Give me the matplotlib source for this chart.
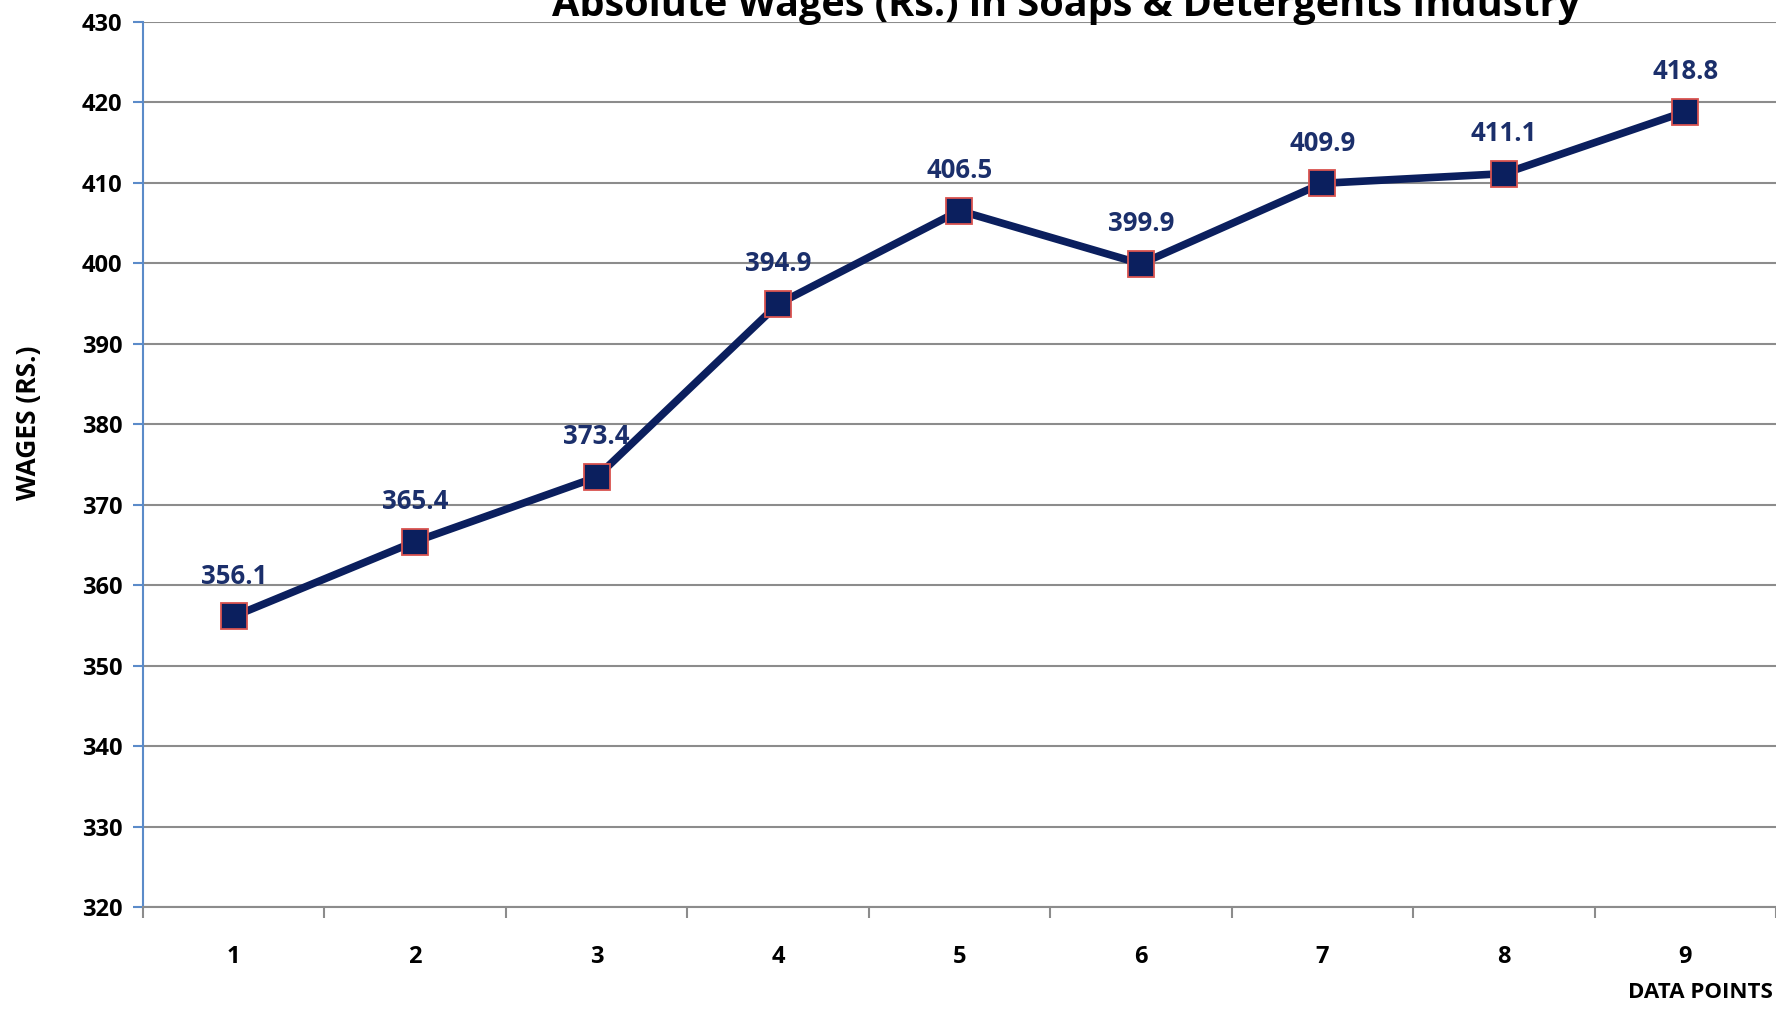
import matplotlib.pyplot as plt

# Data
points = [1, 2, 3, 4, 5, 6, 7, 8, 9]
wages = [356.1, 365.4, 373.4, 394.9, 406.5, 399.9, 409.9, 411.1, 418.8]
y_ticks = [320, 330, 340, 350, 360, 370, 380, 390, 400, 410, 420, 430]

plt.rcParams['font.family'] = ['Open Sans', 'DejaVu Sans']
plt.rcParams['font.weight'] = 'bold'

fig = plt.figure(figsize=(17.76, 10.15), dpi=100)
ax = fig.add_axes([0.0805, 0.1064, 0.9195, 0.8724])

# Line with square markers
ax.plot(points, wages, color='#0B1F5E', linewidth=5.5, marker='s',
        markersize=19, markerfacecolor='#0B1F5E', markeredgecolor='#D9534F',
        markeredgewidth=1.3, zorder=3)

# Value labels above each point
for x, y in zip(points, wages):
    ax.annotate(f"{y:.1f}", (x, y), xytext=(0, 29), textcoords='offset points',
                ha='center', va='center', fontsize=18.5, fontweight='bold',
                color='#1B2F6B', zorder=4)

ax.set_xlim(0.5, 9.5)
ax.set_ylim(320, 430)
ax.set_yticks(y_ticks)
ax.set_xticks(points)
ax.set_xticklabels([str(p) for p in points])
ax.set_xticks([p + 0.5 for p in range(0, 10)], minor=True)

ax.grid(axis='y', color='#8C8C8C', linewidth=1.5)
ax.set_axisbelow(True)

for side in ['top', 'right']:
    ax.spines[side].set_visible(False)
ax.spines['left'].set_color('#5B8BC9')
ax.spines['left'].set_linewidth(1.5)
ax.spines['bottom'].set_color('#8C8C8C')
ax.spines['bottom'].set_linewidth(1.5)

ax.tick_params(axis='y', which='major', length=7, width=1.5, color='#5B8BC9',
               labelsize=17, pad=8)
ax.tick_params(axis='x', which='major', length=0, labelsize=17, pad=27)
ax.tick_params(axis='x', which='minor', length=8, width=1.5, color='#8C8C8C')

ax.set_ylabel("WAGES (RS.)", fontsize=19, fontweight='bold')
ax.yaxis.set_label_coords(-0.062, 0.547)

fig.text(0.998, 0.012, "DATA POINTS", ha='right', va='bottom',
         fontsize=16, fontweight='bold')
fig.text(0.6, 0.995, "Absolute Wages (Rs.) in Soaps & Detergents Industry",
         ha='center', va='center', fontsize=28.5, fontweight='bold')

fig.savefig('out.png', dpi=100)
